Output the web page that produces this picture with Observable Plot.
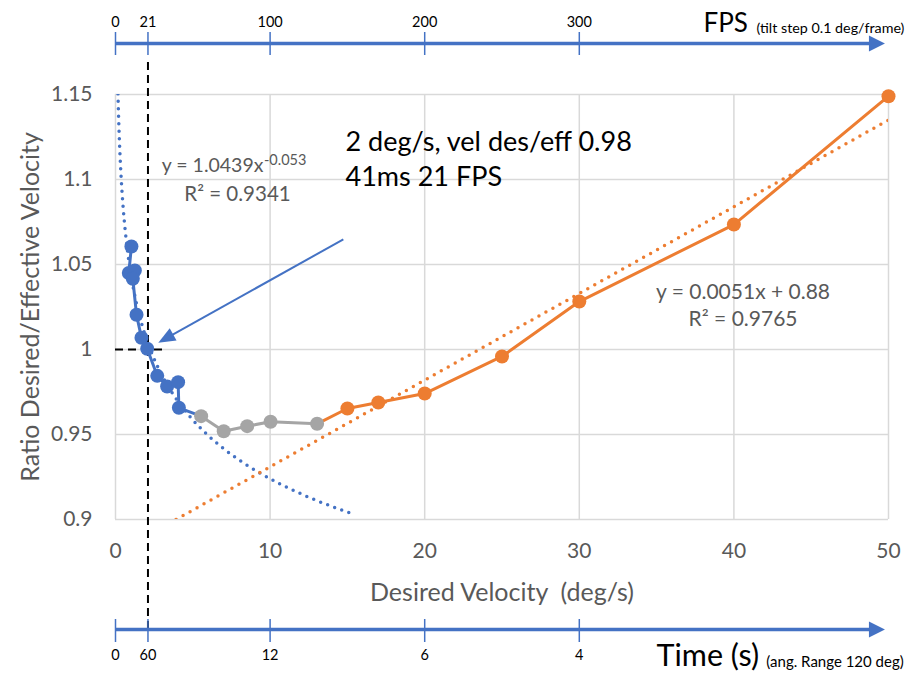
<!DOCTYPE html>
<html><head><meta charset="utf-8">
<script src="https://cdn.jsdelivr.net/npm/d3@7"></script>
<script src="https://cdn.jsdelivr.net/npm/@observablehq/plot@0.6"></script>
<style>body{margin:0;background:#fff}</style>
</head><body><div id="chart"></div>
<script>
// ---- data ----
const blueX = [1.03, 0.86, 1.25, 1.12, 1.36, 1.68, 2.05, 2.70, 3.34, 4.05, 4.10];
const blueY = [1.0606, 1.0450, 1.0465, 1.0416, 1.0204, 1.0069, 1.0004, 0.9845, 0.9782, 0.9808, 0.9657];
const grayX = [5.54, 7.00, 8.52, 10.03, 13.04];
const grayY = [0.9608, 0.9519, 0.9549, 0.9575, 0.9563];
const orangeX = [15.0, 17.0, 20.0, 25.0, 30.0, 40.0, 50.0];
const orangeY = [0.9653, 0.9688, 0.9741, 0.9959, 1.0282, 1.0735, 1.149];

const xTicks = [0, 10, 20, 30, 40, 50];
const yTicks = [0.9, 0.95, 1, 1.05, 1.1, 1.15];
const yTickLabels = ["0.9", "0.95", "1", "1.05", "1.1", "1.15"];
const fpsTickVel = [0, 2.1, 10, 20, 30];
const fpsTickLabels = ["0", "21", "100", "200", "300"];
const timeTickVel = [0, 2.1, 10, 20, 30];
const timeTickLabels = ["0", "60", "12", "6", "4"];

// trendlines (equations shown on the chart)
const powerA = 1.0439, powerB = -0.053, powerFrom = 0.12, powerTo = 15.2;
const linSlope = 0.0051, linIntercept = 0.88, linFrom = 3.92, linTo = 50;

// annotation positions (data units)
const markerVel = 2.1, markerRatio = 1, markerRatioTo = 3.1;
const annoFrom = [14.77, 1.0645], annoTo = [2.80, 1.0037];
const axisArrowEnd = 49.8;

const blue = "#4472C4", orange = "#ED7D31", gray = "#A5A5A5", txt = "#595959", grid = "#D9D9D9";

// ---- build tables ----
const toPts = (X, Y) => X.map((x, i) => ({x, y: Y[i]}));
const bluePts = toPts(blueX, blueY);
const grayPts = toPts(grayX, grayY);
const orangePts = toPts(orangeX, orangeY);
const blueLine = [...bluePts, grayPts[0]];
const orangeLine = [grayPts[grayPts.length - 1], ...orangePts];
const powerPts = d3.range(powerFrom, powerTo, 0.02).concat([powerTo]).map(x => ({x, y: powerA * Math.pow(x, powerB)}));
const linPts = [linFrom, linTo].map(x => ({x, y: linSlope * x + linIntercept}));
const fpsTicks = fpsTickVel.map((v, i) => ({v, label: fpsTickLabels[i]}));
const timeTicks = timeTickVel.map((v, i) => ({v, label: timeTickLabels[i]}));
const yTickRows = yTicks.map((v, i) => ({v, label: yTickLabels[i]}));

function arrows(index, scales, values, dims) {
  const {height, marginTop, marginBottom} = dims;
  const sx = scales.x, sy = scales.y;
  const g = d3.create("svg:g");
  const draw = (x1, y1, x2, y2, w, hl, hw) => {
    const dx = x2 - x1, dy = y2 - y1, L = Math.hypot(dx, dy), ux = dx / L, uy = dy / L;
    const bx = x2 - ux * hl, by = y2 - uy * hl;
    g.append("line").attr("x1", x1).attr("y1", y1).attr("x2", bx + ux).attr("y2", by + uy)
      .attr("stroke", blue).attr("stroke-width", w);
    g.append("path").attr("d", `M${x2},${y2}L${bx - uy * hw / 2},${by + ux * hw / 2}L${bx + uy * hw / 2},${by - ux * hw / 2}Z`)
      .attr("fill", blue);
  };
  const topY = marginTop - 50.5, botY = height - marginBottom + 110.5;
  draw(sx(0), topY, sx(axisArrowEnd), topY, 3.5, 16, 16);
  draw(sx(0), botY, sx(axisArrowEnd), botY, 3.5, 16, 16);
  draw(sx(annoFrom[0]), sy(annoFrom[1]), sx(annoTo[0]), sy(annoTo[1]), 2, 17, 14);
  return g.node();
}

const chart = Plot.plot({
  width: 910, height: 673,
  marginLeft: 115, marginRight: 22, marginTop: 94, marginBottom: 154,
  style: {fontFamily: "Lato, 'Open Sans', sans-serif", background: "white"},
  x: {domain: [0, 50], axis: null},
  y: {domain: [0.9, 1.15], axis: null},
  marks: [
    Plot.gridX(xTicks, {stroke: grid, strokeOpacity: 1, strokeWidth: 1.5}),
    Plot.gridY(yTicks, {stroke: grid, strokeOpacity: 1, strokeWidth: 1.5}),
    Plot.text(yTickRows, {y: "v", text: "label", frameAnchor: "left", textAnchor: "end", lineAnchor: "middle", dx: -23, fontSize: 21, fill: txt}),
    Plot.axisX(xTicks, {tickSize: 0, tickPadding: 24, fontSize: 21, color: txt, label: null}),
    Plot.text(["Ratio Desired/Effective Velocity"], {frameAnchor: "left", textAnchor: "middle", lineAnchor: "middle", dx: -85, rotate: -90, fontSize: 25, fill: txt}),
    Plot.text(["Desired Velocity  (deg/s)"], {frameAnchor: "bottom", lineAnchor: "middle", dy: 73, fontSize: 25, fill: txt}),
    // trendlines
    Plot.line(powerPts, {x: "x", y: "y", stroke: blue, strokeWidth: 3.5, strokeDasharray: "0 7.5", strokeLinecap: "round", clip: true}),
    Plot.line(linPts, {x: "x", y: "y", stroke: orange, strokeWidth: 3.5, strokeDasharray: "0 8", strokeLinecap: "round", clip: true}),
    // reference dashed lines
    Plot.ruleX([markerVel], {stroke: "black", strokeWidth: 2, strokeDasharray: "8 5", insetTop: -32, insetBottom: -114}),
    Plot.ruleY([{y: markerRatio, x1: 0, x2: markerRatioTo}], {y: "y", x1: "x1", x2: "x2", stroke: "black", strokeWidth: 2, strokeDasharray: "8 5"}),
    // series
    Plot.line(blueLine, {x: "x", y: "y", stroke: blue, strokeWidth: 3}),
    Plot.line(grayPts, {x: "x", y: "y", stroke: gray, strokeWidth: 3}),
    Plot.line(orangeLine, {x: "x", y: "y", stroke: orange, strokeWidth: 3}),
    Plot.dot(bluePts, {x: "x", y: "y", r: 7, fill: blue}),
    Plot.dot(grayPts, {x: "x", y: "y", r: 7, fill: gray}),
    Plot.dot(orangePts, {x: "x", y: "y", r: 7, fill: orange}),
    // secondary axes
    Plot.ruleX(fpsTicks, {x: "v", stroke: blue, strokeWidth: 1.5, insetTop: -62, insetBottom: 464}),
    Plot.text(fpsTicks, {x: "v", text: "label", frameAnchor: "top", lineAnchor: "middle", dy: -72, fontSize: 14.5, fill: "black"}),
    Plot.ruleX(timeTicks, {x: "v", stroke: blue, strokeWidth: 1.5, insetTop: 525, insetBottom: -123}),
    Plot.text(timeTicks, {x: "v", text: "label", frameAnchor: "bottom", lineAnchor: "middle", dy: 136, fontSize: 14.5, fill: "black"}),
    Plot.text(["FPS"], {x: 38.03, frameAnchor: "top", lineAnchor: "middle", dy: -71, textAnchor: "start", fontSize: 26, fill: "black"}),
    Plot.text(["(tilt step 0.1 deg/frame)"], {x: 41.46, frameAnchor: "top", lineAnchor: "middle", dy: -66.5, textAnchor: "start", fontSize: 14.3, fill: "black"}),
    Plot.text(["Time (s)"], {x: 35.0, frameAnchor: "bottom", lineAnchor: "middle", dy: 137, textAnchor: "start", fontSize: 30.5, fill: "black"}),
    Plot.text(["(ang. Range 120 deg)"], {x: 42.1, frameAnchor: "bottom", lineAnchor: "middle", dy: 143, textAnchor: "start", fontSize: 15, fill: "black"}),
    arrows,
    // annotations
    Plot.text(["2 deg/s, vel des/eff 0.98"], {x: 14.88, y: 1.1218, textAnchor: "start", fontSize: 27, fill: "black"}),
    Plot.text(["41ms 21 FPS"], {x: 14.88, y: 1.1012, textAnchor: "start", fontSize: 27, fill: "black"}),
    Plot.text(["y = 1.0439x"], {x: 9.57, y: 1.1079, textAnchor: "end", fontSize: 19.5, fill: txt}),
    Plot.text(["-0.053"], {x: 9.6, y: 1.1115, textAnchor: "start", fontSize: 14.5, fill: txt}),
    Plot.text(["R² = 0.9341"], {x: 7.89, y: 1.0912, fontSize: 20.5, fill: txt}),
    Plot.text(["y = 0.0051x + 0.88"], {x: 40.59, y: 1.0335, fontSize: 21, fill: txt}),
    Plot.text(["R² = 0.9765"], {x: 40.59, y: 1.0176, fontSize: 21, fill: txt})
  ]
});
document.getElementById("chart").appendChild(chart);
</script>
</body></html>
